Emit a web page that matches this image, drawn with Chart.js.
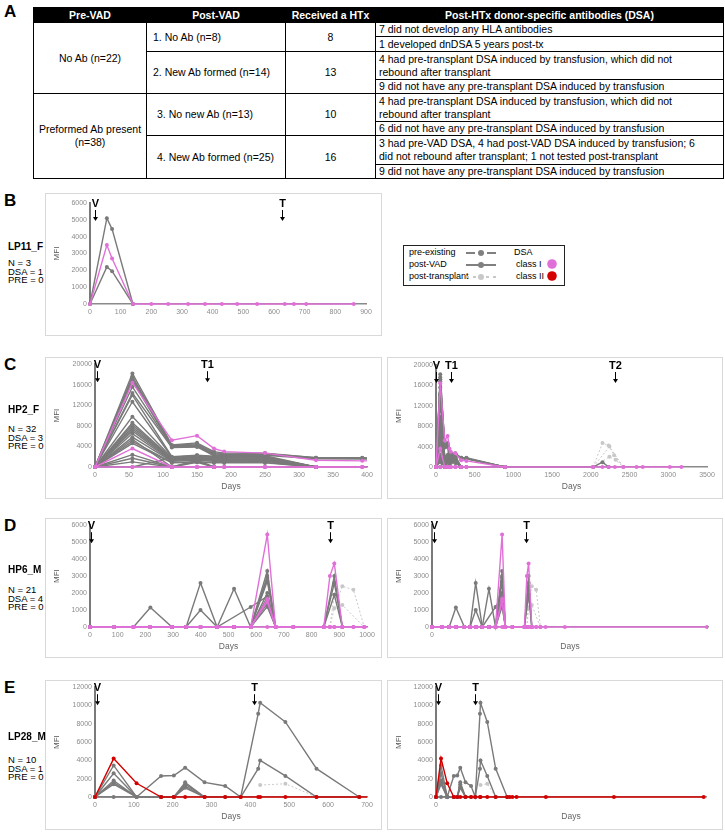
<!DOCTYPE html>
<html>
<head>
<meta charset="utf-8">
<script src="https://cdn.jsdelivr.net/npm/chart.js@4.4.1/dist/chart.umd.min.js"></script>
<style>
  body { margin: 0; background: #fff; font-family: "Liberation Sans", Arial, sans-serif; color: #000; }
  #page { position: relative; width: 725px; height: 832px; overflow: hidden; }
  .panel { position: absolute; left: 4px; font-weight: bold; font-size: 17px; line-height: 18px; }
  .pname { position: absolute; left: 8px; font-weight: bold; font-size: 10px; line-height: 14px; z-index: 2; }
  .pinfo { position: absolute; left: 8px; font-size: 9.5px; line-height: 8.5px; }
  .box { position: absolute; border: 1.5px solid #d9d9d9; box-sizing: border-box; }
  .box canvas { position: absolute; left: -1.5px; top: -1.5px; }
  table { position: absolute; left: 33px; top: 7px; border-collapse: collapse; table-layout: fixed; font-size: 10.5px; }
  td, th { border: 1px solid #000; padding: 0; line-height: 13px; vertical-align: middle; white-space: nowrap; }
  th { background: #000; color: #fff; font-weight: bold; }
  td.c { text-align: center; }
  td.l { text-align: left; padding-left: 6px; }
  td.d { text-align: left; padding-left: 3px; }
  #legend { position: absolute; left: 403px; top: 245px; width: 162px; height: 41px; border: 1.5px solid #222; box-sizing: border-box; font-size: 9px; }
  #legend div, #legend svg { position: absolute; }
</style>
</head>
<body>
<div id="page">
  <div class="panel" style="top:3px">A</div>
  <table>
    <colgroup><col style="width:113px"><col style="width:139px"><col style="width:90px"><col style="width:348px"></colgroup>
    <tr style="height:15px"><th>Pre-VAD</th><th>Post-VAD</th><th>Received a HTx</th><th>Post-HTx donor-specific antibodies (DSA)</th></tr>
    <tr style="height:14px"><td class="c" rowspan="4">No Ab (n=22)</td><td class="l" rowspan="2">1. No Ab (n=8)</td><td class="c" rowspan="2">8</td><td class="d">7 did not develop any HLA antibodies</td></tr>
    <tr style="height:15px"><td class="d">1 developed dnDSA 5 years post-tx</td></tr>
    <tr style="height:28px"><td class="l" rowspan="2">2. New Ab formed (n=14)</td><td class="c" rowspan="2">13</td><td class="d">4 had pre-transplant DSA induced by transfusion, which did not<br>rebound after transplant</td></tr>
    <tr style="height:14px"><td class="d">9 did not have any pre-transplant DSA induced by transfusion</td></tr>
    <tr style="height:28px"><td class="c" rowspan="4">Preformed Ab present<br>(n=38)</td><td class="l" style="padding-left:10px" rowspan="2">3. No new Ab (n=13)</td><td class="c" rowspan="2">10</td><td class="d">4 had pre-transplant DSA induced by transfusion, which did not<br>rebound after transplant</td></tr>
    <tr style="height:14px"><td class="d">6 did not have any pre-transplant DSA induced by transfusion</td></tr>
    <tr style="height:29px"><td class="l" style="padding-left:10px" rowspan="2">4. New Ab formed (n=25)</td><td class="c" rowspan="2">16</td><td class="d">3 had pre-VAD DSA, 4 had post-VAD DSA induced by transfusion; 6<br>did not rebound after transplant; 1 not tested post-transplant</td></tr>
    <tr style="height:14px"><td class="d">9 did not have any pre-transplant DSA induced by transfusion</td></tr>
  </table>

  <div class="panel" style="top:192px">B</div>
  <div class="pname" style="top:240px">LP11_F</div>
  <div class="pinfo" style="top:259px">N = 3<br>DSA = 1<br>PRE = 0</div>

  <div id="legend">
    <div style="left:5px;top:1px">pre-existing</div>
    <svg style="left:62px;top:3px" width="30" height="8"><line x1="0" y1="4" x2="9" y2="4" stroke="#808080" stroke-width="2"/><line x1="21" y1="4" x2="30" y2="4" stroke="#808080" stroke-width="2"/><circle cx="15" cy="4" r="3" fill="#808080"/></svg>
    <div style="left:110px;top:1px">DSA</div>
    <div style="left:5px;top:13px">post-VAD</div>
    <svg style="left:62px;top:15px" width="30" height="8"><line x1="0" y1="4" x2="30" y2="4" stroke="#808080" stroke-width="2"/><circle cx="15" cy="4" r="3" fill="#808080"/></svg>
    <div style="left:112px;top:13px">class I</div>
    <svg style="left:142px;top:12px" width="12" height="12"><circle cx="6" cy="6" r="4.8" fill="#e070d8"/></svg>
    <div style="left:5px;top:25px">post-transplant</div>
    <svg style="left:62px;top:27px" width="30" height="8"><g stroke="#c8c8c8" stroke-width="2"><line x1="0" y1="4" x2="3" y2="4"/><line x1="7" y1="4" x2="10" y2="4"/><line x1="20" y1="4" x2="23" y2="4"/><line x1="27" y1="4" x2="30" y2="4"/></g><circle cx="15" cy="4" r="3" fill="#c8c8c8"/></svg>
    <div style="left:112px;top:25px">class II</div>
    <svg style="left:142px;top:24px" width="12" height="12"><circle cx="6" cy="6" r="4.8" fill="#d40000"/></svg>
  </div>

  <div class="panel" style="top:356px">C</div>
  <div class="pname" style="top:403px">HP2_F</div>
  <div class="pinfo" style="top:425px">N = 32<br>DSA = 3<br>PRE = 0</div>

  <div class="panel" style="top:517px">D</div>
  <div class="pname" style="top:563px">HP6_M</div>
  <div class="pinfo" style="top:586px">N = 21<br>DSA = 4<br>PRE = 0</div>

  <div class="panel" style="top:679px">E</div>
  <div class="pname" style="top:730px">LP28_M</div>
  <div class="pinfo" style="top:756px">N = 10<br>DSA = 1<br>PRE = 0</div>
</div>

<script>
// ---- data (days after VAD, MFI values) ----
const bDays = [0, 55, 72, 140, 200, 255, 320, 375, 430, 480, 545, 635, 665, 705, 860];
const bPostVad = [
    [0, 5100, 4450, 0],
    [0, 2200, 1950, 0]
];
const bPink = [
    [0, 3500, 2700, 0, 0, 0, 0, 0, 0, 0, 0, 0, 0, 0, 0]
];

const cDays = [0, 55, 113, 150, 175, 190, 250, 325, 393, 890, 2030, 2150, 2230, 2310, 2420, 2590, 2670, 3020, 3170];
const cPostVad = [
    [0, 18200, 4300, 4700, 3000, 2700, 2700, 1800, 1800, 0, 0, 950, 0],
    [0, 17600, 4200, 4500, 2800, 2500, 2600, 1800, 1700, 0],
    [0, 17200, 4100, 4300, 2600, 2400, 2500, 1700, 1700, 0],
    [0, 16800, 4000, 4200, 2400, 2300, 2400, 1700, 1600, 0],
    [0, 15600, 3900, 4000, 2300, 2200, 2300, 1600, 1600, 0],
    [0, 14400, 3800, 3900, 2200, 2100, 2200, 0, 0, 0],
    [0, 14000, 2000, 2300, 2100, 2000, 2000, 0],
    [0, 12700, 1900, 2200, 2000, 1900, 1900, 0],
    [0, 9800, 1800, 2000, 1800, 1800, 1800, 0],
    [0, 8600, 1700, 1900, 1700, 1700, 1700, 0],
    [0, 8200, 1600, 1800, 1600, 1600, 1600, 0],
    [0, 7800, 1500, 1700, 1500, 1500, 1500, 0],
    [0, 7400, 1400, 1500, 1400, 1400, 1400, 0],
    [0, 7000, 1300, 1400, 1300, 1300, 1300, 0],
    [0, 6500, 1200, 2300, 1200, 1200, 1200, 0],
    [0, 5800, 1100, 1300, 1100, 1100, 1100, 0],
    [0, 5400, 0, 1300, 0, 0, 0, 0],
    [0, 5000, 900, 1000, 900, 900, 900, 0],
    [0, 4600, 800, 900, 800, 800, 800, 0],
    [0, 2400, 0, 1100, 0],
    [0, 1700, 0, 900, 0],
    [0, 1000, 0, 0, 0],
    [0, 0, 1800, 2000, 1700, 1600, 1500, 0]
];
const cPink = [
    [0, 16400, 5200, 6100, 3600, 3000, 2700, 1300, 1200, 0, 0, 0, 0, 0, 0, 0, 0, 0, 0],
    [0, 3600, 0, 0, 0, 0, 0, 0, 0, 0],
    [0, 0, 0, 0, 0, 0, 0, 0, 0]
];
const cPostTxDays = [
    [2030, 2150, 2230, 2420],
    [2030, 2240, 2300, 2420],
    [2030, 2240, 2320, 2420]
];
const cPostTx = [
    [0, 4700, 4200, 0],
    [0, 4000, 2300, 0],
    [0, 2000, 1400, 0]
];

const dDays = [0, 88, 157, 218, 296, 347, 399, 459, 520, 580, 640, 670, 734, 844, 866, 882, 911, 951, 990, 1037, 1213, 2510];
const dPostVad = [
    [0, 0, 0, 1150, 0, 0, 0, 0, 0, 0, 3300, 0, 0, 0, null, 3000, 0],
    [0, 0, 0, 0, 0, 0, 2600, 0, 0, 0, 3000, 0, 0, 0, null, 2600, 0],
    [0, 0, 0, 0, 0, 0, 1000, 0, 0, 0, 2900, 0, 0, 0, null, 1900, 0],
    [0, 0, 0, 0, 0, 0, 0, 0, 2250, 0, 2000, 0],
    [0, 0, 0, 0, 0, 0, 0, 0, null, 1180, 1800, 0],
    [0, 0, 0, 0, 0, 0, 0, 0, 0, 0, 1600, 0],
    [0, 0, 0, 0, 0, 0, 0, 0, 0, 0, 1400, 0],
    [0, 0, 0, 0, 0, 0, 0, 0, 0, 0, 2700, 0],
    [0, 0, 0, 0, 0, 0, 0, 0, 0, 0, 1200, 0],
    [0, 0, 0, 0, 0, 0, 0, 0, 0, 0, 1750, 0]
];
const dPink = [
    [0, 0, 0, 0, 0, 0, 0, 0, 0, 0, 5450, 0, 0, 0, 3000, 3750, 0, 0, 0],
    [0, 0, 0, 0, 0, 0, 0, 0, 0, 0, 1500, 0, 0, 0, 0, 0, 0],
    [0, 0, 0, 0, 0, 0, 0, 0, 0, 0, 1650, 0],
    [0, 0, 0, 0, 0, 0, 0, 0, 0, 0, 0, 0, 0, 0, 0, 0, 0, 0, 0, 0, 0, 0]
];
const dPostTxDays = [
    [866, 882, 911, 951, 990],
    [866, 882, 911, 990]
];
const dPostTx = [
    [0, 1100, 2400, 2200, 0],
    [0, 1900, 1300, 0]
];

const eDays = [0, 48, 107, 170, 203, 232, 282, 335, 375, 420, 425, 490, 570, 680, 705, 730, 770, 1050, 1700, 2558];
const ePostVad = [
    [0, 3450, 0, 2300, 2350, 3200, 1600, 1200, 0, 9100, 10300, 8200, 3100, 0],
    [0, 2600, 0, 0, 0, 1600, 0, 0, 0, 3100, 4000, 2300, 0, 0],
    [0, 1800, 0, 0, 0, 1400, 0],
    [0, 1600, 0, 0, 0, 1200, 0],
    [0, 1400, 0, 0, 0, 1000, 0],
    [0, 0, 0]
];
const eRed = [
    [0, 4200, 1500, 0, 0, 0, 0, 0, 0, 0, 0, 0, 0, 0, 0, 0, 0, 0, 0, 0]
];
const ePostTxDays = [[425, 490, 570]];
const ePostTx = [[1300, 1450, 0]];

// ---- drawing ----
Chart.defaults.font.family = '"Liberation Sans", Arial, sans-serif';

const colores = { grey: '#7a7a7a', pink: '#e070d8', red: '#d40000', post: '#c8c8c8' };

function puntos(days, vals) {
    const out = [];
    vals.forEach((v, i) => {
        if (v !== null && v !== undefined) out.push({ x: days[i], y: v });
    });
    return out;
}

function serie(days, vals, tipo) {
    const c = colores[tipo];
    return {
        data: puntos(days, vals),
        borderColor: c,
        backgroundColor: c,
        pointBackgroundColor: c,
        pointBorderWidth: 0,
        pointRadius: 2,
        pointHoverRadius: 0,
        borderWidth: tipo == 'post' ? 1 : 1.4,
        borderDash: tipo == 'post' ? [2, 2] : [],
        tension: 0,
        order: tipo == 'post' ? 3 : (tipo == 'grey' ? 2 : 1),
        clip: { left: 2, top: 6, right: 0, bottom: 4 }
    };
}

function seriesPanel(days, postVad, dsa, dsaTipo, txDays, tx) {
    const ds = [];
    postVad.forEach(v => ds.push(serie(days, v, 'grey')));
    dsa.forEach(v => ds.push(serie(days, v, dsaTipo)));
    (tx || []).forEach((v, i) => ds.push(serie(txDays[i], v, 'post')));
    return ds;
}

// arrows with V / T labels
const flechas = {
    id: 'flechas',
    afterDatasetsDraw(chart, args, opts) {
        const { ctx, chartArea } = chart;
        const x = chart.scales.x;
        ctx.save();
        ctx.fillStyle = '#000';
        ctx.strokeStyle = '#000';
        ctx.font = 'bold 11px "Liberation Sans", Arial, sans-serif';
        ctx.textAlign = 'center';
        ctx.textBaseline = 'middle';
        (opts.items || []).forEach(m => {
            const px = Math.round(x.getPixelForValue(m[1])) + 0.5;
            const t = chartArea.top;
            ctx.fillText(m[0], px, t + 1);
            ctx.lineWidth = 1;
            ctx.beginPath();
            ctx.moveTo(px, t + 7);
            ctx.lineTo(px, t + 15);
            ctx.stroke();
            ctx.beginPath();
            ctx.moveTo(px - 2.5, t + 14);
            ctx.lineTo(px + 2.5, t + 14);
            ctx.lineTo(px, t + 18);
            ctx.closePath();
            ctx.fill();
        });
        ctx.restore();
    }
};

function grafico(cfg, datasets) {
    const [bx, by, bw, bh] = cfg.box;
    const [pl, pt, pr, pb] = cfg.plot;
    const div = document.createElement('div');
    div.className = 'box';
    div.style.left = bx + 'px';
    div.style.top = by + 'px';
    div.style.width = bw + 'px';
    div.style.height = bh + 'px';
    const canvas = document.createElement('canvas');
    canvas.width = bw;
    canvas.height = bh;
    div.appendChild(canvas);
    document.getElementById('page').appendChild(div);

    const L = pl - bx, T = pt - by, R = pr - bx, B = pb - by;
    const alturaX = 27;
    new Chart(canvas, {
        type: 'line',
        data: { datasets: datasets },
        options: {
            responsive: false,
            animation: false,
            events: [],
            layout: { padding: { left: 3, top: T, right: bw - R, bottom: bh - B - alturaX } },
            plugins: {
                legend: { display: false },
                tooltip: { enabled: false },
                flechas: { items: cfg.marks }
            },
            scales: {
                x: {
                    type: 'linear',
                    min: 0,
                    max: cfg.xMax,
                    ticks: { stepSize: cfg.xStep, color: '#8c8c8c', font: { size: 7 }, padding: 4, maxRotation: 0, autoSkip: false, callback: (v) => String(v) },
                    afterBuildTicks: (s) => { s.ticks = s.ticks.filter(t => t.value % cfg.xStep === 0); },
                    grid: { display: false, drawTicks: false },
                    border: { display: true, color: '#8a8a8a', width: 1.5 },
                    title: { display: cfg.days, text: 'Days', color: '#666', font: { size: 8.5 }, padding: { top: 0, bottom: 2 } },
                    afterFit: (s) => { s.height = alturaX; }
                },
                y: {
                    min: 0,
                    max: cfg.yMax,
                    ticks: { stepSize: cfg.yStep, color: '#8c8c8c', font: { size: 7 }, padding: 3, callback: (v) => String(v) },
                    grid: { display: false, drawTicks: false },
                    border: { display: true, color: '#7a7a7a', width: 2 },
                    title: { display: true, text: 'MFI', color: '#555', font: { size: 8 }, padding: { top: 4, bottom: 0 } },
                    afterFit: (s) => { s.width = L - 3; }
                }
            }
        },
        plugins: [flechas]
    });
}

const dsB = () => seriesPanel(bDays, bPostVad, bPink, 'pink');
const dsC = () => seriesPanel(cDays, cPostVad, cPink, 'pink', cPostTxDays, cPostTx);
const dsD = () => seriesPanel(dDays, dPostVad, dPink, 'pink', dPostTxDays, dPostTx);
const dsE = () => seriesPanel(eDays, ePostVad, eRed, 'red', ePostTxDays, ePostTx);

grafico({ box: [45, 193, 337, 143], plot: [90, 203, 366, 304], xMax: 900, xStep: 100, yMax: 6000, yStep: 1000, days: false, marks: [['V', 15], ['T', 625]] }, dsB());
grafico({ box: [45, 357, 337, 142], plot: [95, 364, 367, 467], xMax: 400, xStep: 50, yMax: 20000, yStep: 4000, days: true, marks: [['V', 3], ['T1', 165]] }, dsC());
grafico({ box: [387, 357, 336, 142], plot: [436, 365, 707, 467], xMax: 3500, xStep: 500, yMax: 20000, yStep: 4000, days: true, marks: [['V', 5], ['T1', 195], ['T2', 2310]] }, dsC());
grafico({ box: [45, 518, 337, 140], plot: [90, 525, 367, 627], xMax: 1000, xStep: 100, yMax: 6000, yStep: 1000, days: true, marks: [['V', 5], ['T', 865]] }, dsD());
grafico({ box: [387, 518, 336, 140], plot: [432, 525, 708, 627], xMax: 2520, xStep: 500, yMax: 6000, yStep: 1000, days: true, marks: [['V', 18], ['T', 855]] }, dsD());
grafico({ box: [45, 680, 337, 150], plot: [95, 687, 367, 797], xMax: 700, xStep: 100, yMax: 12000, yStep: 2000, days: true, marks: [['V', 5], ['T', 410]] }, dsE());
grafico({ box: [387, 680, 336, 150], plot: [436, 687, 706, 797], xMax: 2580, xStep: 500, yMax: 12000, yStep: 2000, days: true, marks: [['V', 18], ['T', 375]] }, dsE());
</script>
</body>
</html>
